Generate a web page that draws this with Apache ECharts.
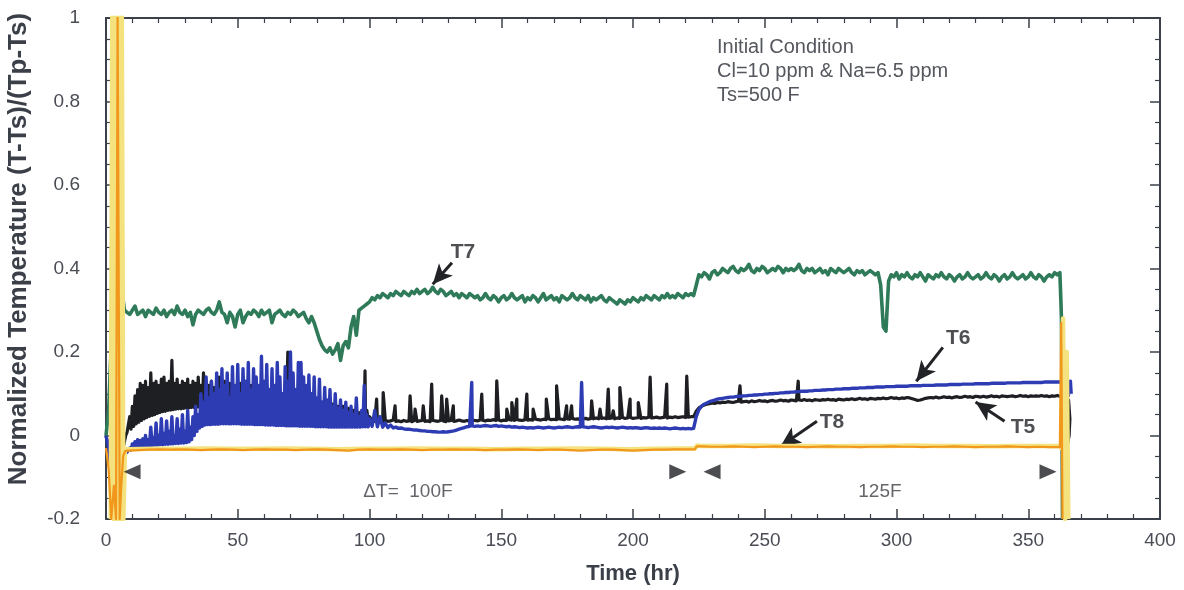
<!DOCTYPE html>
<html>
<head>
<meta charset="utf-8">
<title>Normalized Temperature vs Time</title>
<script src="https://cdn.jsdelivr.net/npm/echarts@6.0.0/dist/echarts.min.js"></script>
<style>
  html, body { margin: 0; padding: 0; background: #ffffff; }
  #chart { width: 1184px; height: 590px; }
</style>
</head>
<body>
<div id="chart"></div>
<script>
// ---------------------------------------------------------------------------
// Thermocouple traces, normalized temperature (T-Ts)/(Tp-Ts) against time (hr).
// Each trace: a start-up transient (explicit [hour, value] pairs), runs of
// readings at a fixed step ([first hour, step, values]), and a shut-down tail.
// ---------------------------------------------------------------------------

const xTicks = { min: 0, max: 400, interval: 50 };
const yTicks = { min: -0.2, max: 1, interval: 0.2 };

// ---- T7 (green) ----
const t7Head = [[0, 0.0], [1, 0.06], [2, 0.22], [2.8, 0.40], [3.4, 0.58], [4.0, 0.44], [4.6, 0.55], [5.2, 0.40], [5.8, 0.43], [6.4, 0.33]];
const t7Runs = [
  [7, 1, [
    0.300, 0.295, 0.290, 0.300, 0.310, 0.290, 0.295, 0.300, 0.285, 0.300,
    0.295, 0.290, 0.305, 0.295, 0.290, 0.300, 0.285, 0.295, 0.300, 0.290,
    0.310, 0.295, 0.290, 0.300, 0.285, 0.295, 0.265, 0.290, 0.300, 0.295,
    0.290, 0.300, 0.305, 0.295, 0.290, 0.300, 0.320, 0.295, 0.290, 0.270,
    0.295, 0.285, 0.260, 0.290, 0.300, 0.270, 0.285, 0.295, 0.290, 0.300,
    0.295, 0.285, 0.300, 0.290, 0.295, 0.300, 0.270, 0.290, 0.295, 0.300,
    0.290, 0.285, 0.295, 0.290, 0.300, 0.295, 0.285, 0.290, 0.295, 0.280,
    0.270, 0.285, 0.270, 0.250, 0.230, 0.215, 0.205, 0.200, 0.210, 0.195,
    0.205, 0.220, 0.180, 0.215, 0.225, 0.210, 0.260, 0.285, 0.240, 0.300,
    0.305, 0.310, 0.315, 0.320, 0.330, 0.325, 0.335, 0.330, 0.340, 0.335,
    0.330, 0.340, 0.335, 0.345, 0.340, 0.335, 0.345, 0.340, 0.335, 0.345,
    0.340, 0.350, 0.340, 0.345, 0.350, 0.340, 0.345, 0.355, 0.345, 0.340,
    0.350, 0.345, 0.335, 0.340, 0.345, 0.335, 0.340, 0.330, 0.340, 0.335,
    0.330, 0.340, 0.335, 0.330, 0.335, 0.325, 0.330, 0.340, 0.330, 0.325,
    0.335, 0.330, 0.320, 0.330, 0.335, 0.325, 0.330, 0.340, 0.330, 0.325,
    0.330, 0.335, 0.320, 0.330, 0.325, 0.335, 0.330, 0.320, 0.330, 0.340,
    0.325, 0.330, 0.335, 0.325, 0.330, 0.320, 0.335, 0.330, 0.325, 0.330,
    0.340, 0.330, 0.325, 0.335, 0.330, 0.325, 0.335, 0.320, 0.330, 0.325,
    0.330, 0.335, 0.325, 0.320, 0.330, 0.325, 0.320, 0.315, 0.325, 0.320,
    0.315, 0.325, 0.320, 0.330, 0.325, 0.320, 0.330, 0.325, 0.335, 0.330,
    0.325, 0.335, 0.330, 0.325, 0.335, 0.330, 0.340, 0.330, 0.335, 0.330,
    0.340, 0.335, 0.330, 0.340, 0.335, 0.340
  ]],
  [223, 1, [
    0.335, 0.360, 0.385, 0.380, 0.390, 0.385, 0.375, 0.390, 0.395, 0.385,
    0.390, 0.400, 0.395, 0.390, 0.400, 0.405, 0.395, 0.390, 0.400, 0.395,
    0.400, 0.410, 0.395, 0.390, 0.400, 0.395, 0.405, 0.400, 0.390, 0.395,
    0.400, 0.395, 0.405, 0.400, 0.390, 0.400, 0.395, 0.400, 0.395, 0.400,
    0.410, 0.395, 0.390, 0.400, 0.395, 0.400, 0.390, 0.395, 0.400, 0.390,
    0.395, 0.385, 0.400, 0.395, 0.390, 0.400, 0.395, 0.390, 0.395, 0.400,
    0.390, 0.385, 0.395, 0.390, 0.395, 0.385, 0.390, 0.395, 0.390, 0.385,
    0.390, 0.360, 0.260, 0.250, 0.370, 0.385, 0.380, 0.390, 0.375, 0.385,
    0.380, 0.390, 0.380, 0.375, 0.385, 0.380, 0.390, 0.380, 0.370, 0.385,
    0.380, 0.375, 0.385, 0.380, 0.390, 0.380, 0.375, 0.385, 0.380, 0.370,
    0.380, 0.385, 0.375, 0.380, 0.390, 0.380, 0.375, 0.380, 0.385, 0.375,
    0.380, 0.390, 0.380, 0.375, 0.385, 0.380, 0.370, 0.380, 0.385, 0.375,
    0.380, 0.390, 0.380, 0.375, 0.380, 0.385, 0.375, 0.380, 0.390, 0.380,
    0.375, 0.385, 0.380, 0.370, 0.380, 0.385, 0.380, 0.390, 0.385, 0.390
  ]]
];
const t7Tail = [[362.4, 0.32], [362.6, 0.28], [363.0, -0.2]];

// ---- T5 (black) ----
const t5Head = [[0, 0.0], [1.5, -0.05], [2.5, -0.12], [3.5, -0.06], [4.5, -0.15], [5.5, -0.07], [6.5, -0.03], [7.5, 0.0], [8, 0.008]];
const t5Runs = [
  [8.5, 0.5, [
    0.010, 0.045, 0.015, 0.070, 0.022, 0.095, 0.028, 0.110, 0.032, 0.125,
    0.036, 0.120, 0.040, 0.130, 0.043, 0.115, 0.046, 0.150, 0.048, 0.125,
    0.050, 0.130, 0.053, 0.120, 0.055, 0.135, 0.057, 0.140, 0.058, 0.125,
    0.060, 0.130, 0.061, 0.180, 0.062, 0.125, 0.063, 0.135, 0.064, 0.120,
    0.064, 0.130, 0.065, 0.125, 0.066, 0.135, 0.066, 0.120, 0.067, 0.130,
    0.067, 0.125, 0.068, 0.140, 0.068, 0.120, 0.068, 0.150, 0.068, 0.125,
    0.068, 0.120, 0.068, 0.130, 0.068, 0.115, 0.067, 0.125, 0.067, 0.140,
    0.067, 0.120, 0.066, 0.130, 0.066, 0.115, 0.066, 0.125, 0.065, 0.110,
    0.065, 0.120, 0.064, 0.110, 0.064, 0.125, 0.063, 0.105, 0.063, 0.115,
    0.062, 0.110, 0.062, 0.120, 0.061, 0.100, 0.061, 0.115, 0.060, 0.105,
    0.060, 0.110, 0.059, 0.100, 0.058, 0.115, 0.058, 0.095, 0.057, 0.105,
    0.057, 0.100, 0.056, 0.110, 0.055, 0.095, 0.055, 0.100, 0.054, 0.090,
    0.054, 0.200, 0.053, 0.095, 0.052, 0.090, 0.052, 0.100, 0.051, 0.085,
    0.050, 0.090, 0.050, 0.085, 0.049, 0.095, 0.048, 0.080, 0.048, 0.085,
    0.047, 0.080, 0.046, 0.085, 0.046, 0.075, 0.045, 0.080, 0.044, 0.070,
    0.044, 0.075, 0.043, 0.070, 0.042, 0.075, 0.042, 0.065, 0.041, 0.070,
    0.041, 0.065, 0.040, 0.070, 0.040, 0.060, 0.039, 0.065, 0.039, 0.060,
    0.038, 0.060, 0.038, 0.055, 0.038, 0.055, 0.037, 0.055, 0.037, 0.050,
    0.037, 0.060, 0.036, 0.045
  ]],
  [101, 1, [
    0.036, 0.034, 0.037, 0.035, 0.033, 0.036, 0.034, 0.035, 0.037, 0.034,
    0.035, 0.033, 0.036, 0.034, 0.035, 0.033, 0.036, 0.034, 0.035, 0.036,
    0.034, 0.035, 0.033, 0.036, 0.035, 0.034, 0.036, 0.035, 0.033, 0.035,
    0.036, 0.034, 0.035, 0.037, 0.035, 0.034, 0.036, 0.035, 0.037, 0.036,
    0.035, 0.037, 0.036, 0.035, 0.037, 0.036, 0.038, 0.036, 0.037, 0.035,
    0.037, 0.036, 0.038, 0.037, 0.036, 0.038, 0.037, 0.036, 0.038, 0.037,
    0.038, 0.037, 0.039, 0.038, 0.037, 0.039, 0.038, 0.040, 0.038, 0.039,
    0.038, 0.040, 0.039, 0.038, 0.040, 0.039, 0.041, 0.039, 0.040, 0.039,
    0.040, 0.041, 0.039, 0.041, 0.040, 0.042, 0.040, 0.041, 0.042, 0.040,
    0.041, 0.042, 0.040, 0.042, 0.041, 0.043, 0.041, 0.042, 0.043, 0.041,
    0.042, 0.043, 0.041, 0.043, 0.042, 0.044, 0.042, 0.043, 0.044, 0.042,
    0.043, 0.044, 0.042, 0.044, 0.043, 0.045, 0.043, 0.044, 0.045, 0.043,
    0.044, 0.045
  ]],
  [223, 1, [
    0.045, 0.058, 0.066, 0.070, 0.073, 0.075, 0.076, 0.078, 0.077, 0.079,
    0.078, 0.080, 0.079, 0.081, 0.080, 0.079, 0.081, 0.082, 0.080, 0.081,
    0.082, 0.080, 0.083, 0.081, 0.082, 0.084, 0.082, 0.083, 0.081, 0.083,
    0.084, 0.082, 0.083, 0.085, 0.083, 0.084, 0.082, 0.085, 0.084, 0.083,
    0.085, 0.084, 0.086, 0.084, 0.085, 0.083, 0.086, 0.085, 0.084, 0.086,
    0.085, 0.087, 0.085, 0.086, 0.084, 0.087, 0.086, 0.085, 0.087, 0.086,
    0.088, 0.086, 0.087, 0.089, 0.087, 0.088, 0.086, 0.089, 0.088, 0.087,
    0.089, 0.088, 0.090, 0.088, 0.089, 0.091, 0.089, 0.090, 0.088, 0.090,
    0.089, 0.091, 0.090, 0.088, 0.086, 0.084, 0.085, 0.087, 0.089, 0.090,
    0.091, 0.090, 0.092, 0.090, 0.091, 0.093, 0.091, 0.092, 0.090, 0.092,
    0.093, 0.091, 0.092, 0.094, 0.092, 0.093, 0.091, 0.094, 0.093, 0.092,
    0.094, 0.092, 0.093, 0.095, 0.093, 0.094, 0.092, 0.095, 0.094, 0.093,
    0.094, 0.095, 0.093, 0.094, 0.096, 0.094, 0.095, 0.093, 0.095, 0.094,
    0.095, 0.094, 0.096, 0.094, 0.095, 0.093, 0.095, 0.094, 0.096, 0.094
  ]]
];
// short excursions riding on the T5 baseline
const t5SpikeHours = [98.3, 102.7, 105.2, 109.7, 115.4, 117.3, 120.4, 123.6, 127.4, 129.3, 131.8, 142.6, 148.3, 152.1, 154.0, 155.9, 159.7, 162.1, 167.1, 171.0, 174.8, 176.7, 184.3, 187.5, 190.6, 192.5, 195.0, 198.9, 202.0, 206.5, 212.8, 220.4, 240.6, 262.7];
const t5SpikeTops  = [0.155, 0.087, 0.103, 0.071, 0.095, 0.063, 0.071, 0.123, 0.095, 0.087, 0.071, 0.099, 0.131, 0.063, 0.079, 0.087, 0.099, 0.063, 0.087, 0.119, 0.071, 0.071, 0.083, 0.063, 0.111, 0.059, 0.115, 0.087, 0.079, 0.140, 0.123, 0.142, 0.119, 0.130];
const t5Tail = [[363.5, 0.093], [364.5, 0.090], [365.3, 0.085], [365.8, 0.040], [365.5, 0.0], [364.5, -0.035]];

// ---- T6 (blue) ----
const t6Head = [[0, 0.0], [1, -0.03], [2, -0.10], [2.7, -0.18], [3.3, -0.10], [4.0, -0.16], [4.7, -0.08], [5.4, -0.12], [6.2, -0.05], [7, -0.045], [8, -0.04]];
const t6Runs = [
  [8.5, 0.5, [
    -0.040, -0.030, -0.035, -0.020, -0.030, -0.015, -0.028, -0.010, -0.027, -0.012,
    -0.026, -0.008, -0.025, 0.000, -0.025, -0.010, -0.024, 0.020, -0.024, -0.005,
    -0.023, 0.030, -0.023, 0.000, -0.022, 0.040, -0.022, 0.005, -0.021, 0.035,
    -0.021, 0.010, -0.020, 0.045, -0.020, 0.000, -0.019, 0.040, -0.019, 0.015,
    -0.018, 0.050, -0.018, 0.010, -0.017, 0.060, -0.015, 0.020, -0.010, 0.045,
    0.000, 0.070, 0.010, 0.050, 0.018, 0.100, 0.022, 0.080, 0.025, 0.140,
    0.026, 0.090, 0.026, 0.130, 0.027, 0.100, 0.027, 0.150, 0.027, 0.110,
    0.028, 0.160, 0.028, 0.120, 0.028, 0.150, 0.028, 0.090, 0.028, 0.165,
    0.028, 0.120, 0.028, 0.170, 0.028, 0.100, 0.027, 0.160, 0.027, 0.130,
    0.027, 0.175, 0.027, 0.110, 0.027, 0.160, 0.026, 0.140, 0.026, 0.120,
    0.026, 0.190, 0.026, 0.130, 0.025, 0.170, 0.025, 0.110, 0.025, 0.160,
    0.025, 0.120, 0.024, 0.175, 0.024, 0.140, 0.024, 0.100, 0.024, 0.165,
    0.023, 0.130, 0.023, 0.200, 0.023, 0.150, 0.023, 0.110, 0.023, 0.175,
    0.022, 0.175, 0.022, 0.140, 0.022, 0.120, 0.022, 0.145, 0.022, 0.100,
    0.022, 0.140, 0.021, 0.090, 0.021, 0.135, 0.021, 0.080, 0.021, 0.115,
    0.021, 0.085, 0.020, 0.110, 0.020, 0.070, 0.020, 0.100, 0.020, 0.065,
    0.020, 0.085, 0.020, 0.060, 0.020, 0.080, 0.020, 0.055, 0.020, 0.070,
    0.020, 0.050, 0.020, 0.090, 0.020, 0.045, 0.020, 0.060, 0.021, 0.120,
    0.021, 0.050, 0.021, 0.040
  ]],
  [101, 1, [
    0.022, 0.060, 0.021, 0.045, 0.020, 0.030, 0.019, 0.025, 0.018, 0.020,
    0.017, 0.018, 0.016, 0.015, 0.015, 0.014, 0.013, 0.013, 0.012, 0.011,
    0.011, 0.010, 0.010, 0.009, 0.009, 0.008, 0.008, 0.009, 0.008, 0.009,
    0.010, 0.011, 0.013, 0.015, 0.017, 0.019, 0.021, 0.022, 0.023, 0.022,
    0.023, 0.022, 0.023, 0.024, 0.023, 0.022, 0.023, 0.024, 0.022, 0.023,
    0.022, 0.021, 0.022, 0.020, 0.021, 0.020, 0.019, 0.020, 0.019, 0.018,
    0.019, 0.018, 0.019, 0.020, 0.019, 0.018, 0.019, 0.020, 0.019, 0.018,
    0.019, 0.020, 0.019, 0.020, 0.021, 0.020, 0.019, 0.020, 0.021, 0.020,
    0.021, 0.020, 0.019, 0.020, 0.021, 0.020, 0.019, 0.018, 0.019, 0.020,
    0.019, 0.020, 0.019, 0.018, 0.019, 0.020, 0.019, 0.018, 0.019, 0.018,
    0.019, 0.018, 0.017, 0.018, 0.019, 0.018, 0.017, 0.018, 0.017, 0.018,
    0.017, 0.018, 0.017, 0.016, 0.017, 0.018, 0.017, 0.016, 0.017, 0.016,
    0.017, 0.016
  ]],
  [223, 1, [
    0.017, 0.045, 0.062, 0.070, 0.075, 0.078, 0.081, 0.083, 0.085, 0.087,
    0.088, 0.089, 0.090, 0.091, 0.092, 0.092, 0.093, 0.094, 0.094, 0.095,
    0.095, 0.096, 0.096, 0.097, 0.097, 0.098, 0.098, 0.099, 0.099, 0.100,
    0.100, 0.101, 0.101, 0.102, 0.102, 0.103, 0.103, 0.104, 0.104, 0.105,
    0.105, 0.106, 0.106, 0.106, 0.107, 0.107, 0.108, 0.108, 0.108, 0.109,
    0.109, 0.110, 0.110, 0.110, 0.111, 0.111, 0.111, 0.112, 0.112, 0.112,
    0.113, 0.113, 0.113, 0.114, 0.114, 0.114, 0.115, 0.115, 0.115, 0.116,
    0.116, 0.116, 0.116, 0.117, 0.117, 0.117, 0.117, 0.118, 0.118, 0.118,
    0.118, 0.118, 0.119, 0.119, 0.119, 0.119, 0.119, 0.120, 0.120, 0.120,
    0.120, 0.120, 0.121, 0.121, 0.121, 0.121, 0.121, 0.122, 0.122, 0.122,
    0.122, 0.122, 0.123, 0.123, 0.123, 0.123, 0.123, 0.124, 0.124, 0.124,
    0.124, 0.124, 0.124, 0.125, 0.125, 0.125, 0.125, 0.125, 0.125, 0.126,
    0.126, 0.126, 0.126, 0.126, 0.126, 0.127, 0.127, 0.127, 0.127, 0.127,
    0.127, 0.127, 0.127, 0.128, 0.128, 0.128, 0.128, 0.128, 0.128, 0.128
  ]]
];
const t6SpikeHours = [138.8, 180.5];
const t6SpikeTops  = [0.127, 0.127];
const t6Tail = [[363.0, 0.130], [363.8, 0.090], [364.5, 0.135], [365.2, 0.095], [366.0, 0.130], [366.3, 0.100]];

// ---- T8 (orange) ----
const t8Head = [[0, -0.03], [1, -0.08], [2, -0.2], [3, -0.12], [3.8, -0.2], [4.4, 1.02], [5.2, -0.2], [5.8, -0.12], [6.5, -0.05], [7.2, -0.038]];
const t8Runs = [
  [8, 4, [
    -0.036, -0.035, -0.034, -0.033, -0.034, -0.033, -0.034, -0.035, -0.034, -0.033,
    -0.034, -0.035, -0.034, -0.033, -0.034, -0.034, -0.035, -0.034, -0.033, -0.034,
    -0.035, -0.036, -0.034, -0.033, -0.034, -0.034, -0.033, -0.034, -0.035, -0.034,
    -0.034, -0.033, -0.034, -0.034, -0.035, -0.034, -0.034, -0.033, -0.034, -0.035,
    -0.034, -0.034, -0.035, -0.036, -0.035, -0.034, -0.034, -0.035, -0.036, -0.035,
    -0.034, -0.034, -0.033, -0.033
  ]],
  [223.5, 0.7, [-0.033, -0.026]],
  [226, 4, [
    -0.026, -0.027, -0.027, -0.026, -0.027, -0.028, -0.027, -0.026, -0.027, -0.027,
    -0.028, -0.027, -0.026, -0.027, -0.027, -0.028, -0.027, -0.027, -0.026, -0.027,
    -0.027, -0.028, -0.027, -0.027, -0.026, -0.027, -0.028, -0.027, -0.027, -0.026,
    -0.027, -0.028, -0.027, -0.028, -0.028
  ]]
];
const t8Tail = [[362.5, 0.27], [363.0, -0.2]];

// ---- companion trace (pale yellow), runs just beside T8 ----
const t9Head = [[1.8, -0.2], [2.4, 1.02], [3.0, -0.2], [3.6, 1.02], [4.2, -0.2], [4.8, 1.02], [5.4, -0.2], [6.0, 1.02], [6.6, -0.2], [7.2, -0.032]];
const t9Runs = [
  [8, 10, [-0.033, -0.032, -0.032, -0.031, -0.032, -0.032, -0.031, -0.032, -0.033, -0.032,
           -0.032, -0.031, -0.032, -0.032, -0.033, -0.032, -0.032, -0.031, -0.032, -0.033,
           -0.032, -0.031]],
  [223.5, 0.8, [-0.031, -0.024]],
  [226, 10, [-0.025, -0.025, -0.024, -0.025, -0.025, -0.026, -0.025, -0.025, -0.024, -0.025,
             -0.025, -0.026, -0.025, -0.025]]
];
const t9Tail = [[362.0, -0.025], [362.6, -0.03], [363.2, 0.28], [364.0, -0.2], [364.6, 0.20], [365.2, -0.2]];

// markers bounding the two ΔT periods
const periodMarkHours = [9.9, 217.0, 230.0, 357.5];
const periodMarkDirs  = ['left', 'right', 'left', 'right'];
const periodLabels    = ['\u0394T=  100F', '125F'];
const periodLabelHours = [114.6, 293.7];

const conditionLines = ['Initial Condition', 'Cl=10 ppm & Na=6.5 ppm', 'Ts=500 F'];

// ---------------------------------------------------------------------------
function expandRuns(runs) {
  const out = [];
  runs.forEach(([start, step, vals]) => {
    vals.forEach((v, i) => out.push([+(start + i * step).toFixed(3), v]));
  });
  return out;
}
function buildTrace(head, runs, tail, spikeHours, spikeTops) {
  const body = expandRuns(runs);
  (spikeHours || []).forEach((h, i) => body.push([h, spikeTops[i]]));
  body.sort((a, b) => a[0] - b[0]);
  return head.concat(body, tail);
}

const FONT = '"Liberation Sans", Arial, Helvetica, sans-serif';
const AXIS_COLOR = '#3b404a';
const LABEL_COLOR = '#4a4d55';

function traceSeries(name, data, color, width, z) {
  return {
    name, type: 'line', data, z,
    symbol: 'none', showSymbol: false, silent: true,
    lineStyle: { color, width, join: 'round' },
    clip: true
  };
}

const chart = echarts.init(document.getElementById('chart'), null, { renderer: 'canvas' });

const axisCommon = {
  axisLine: { show: true, onZero: false, lineStyle: { color: AXIS_COLOR, width: 2 } },
  axisTick: { show: true, inside: true, length: 10, lineStyle: { color: AXIS_COLOR, width: 1.5 } },
  minorTick: { show: true, length: 5, lineStyle: { color: AXIS_COLOR, width: 1.2 } },
  splitLine: { show: false }
};

const option = {
  backgroundColor: '#ffffff',
  animation: false,
  grid: { left: 106, right: 24, top: 18, bottom: 70, containLabel: false },
  xAxis: [
    Object.assign({}, axisCommon, {
      type: 'value', position: 'bottom',
      min: xTicks.min, max: xTicks.max, interval: xTicks.interval,
      minorTick: Object.assign({}, axisCommon.minorTick, { splitNumber: 5 }),
      axisLabel: { color: LABEL_COLOR, fontFamily: FONT, fontSize: 19, margin: 12 },
      name: 'Time (hr)', nameLocation: 'middle', nameGap: 44,
      nameTextStyle: { color: '#3b3f48', fontFamily: FONT, fontSize: 22, fontWeight: 'bold' }
    }),
    Object.assign({}, axisCommon, {
      type: 'value', position: 'top',
      min: xTicks.min, max: xTicks.max, interval: xTicks.interval,
      minorTick: Object.assign({}, axisCommon.minorTick, { splitNumber: 5 }),
      axisLabel: { show: false }
    })
  ],
  yAxis: [
    Object.assign({}, axisCommon, {
      type: 'value', position: 'left',
      min: yTicks.min, max: yTicks.max, interval: yTicks.interval,
      minorTick: Object.assign({}, axisCommon.minorTick, { splitNumber: 4 }),
      axisLabel: { color: LABEL_COLOR, fontFamily: FONT, fontSize: 19, margin: 26 }
    }),
    Object.assign({}, axisCommon, {
      type: 'value', position: 'right',
      min: yTicks.min, max: yTicks.max, interval: yTicks.interval,
      minorTick: Object.assign({}, axisCommon.minorTick, { splitNumber: 4 }),
      axisLabel: { show: false }
    })
  ],
  series: [
    traceSeries('T5', buildTrace(t5Head, t5Runs, t5Tail, t5SpikeHours, t5SpikeTops), '#1e1f22', 3.2, 2),
    traceSeries('T6', buildTrace(t6Head, t6Runs, t6Tail, t6SpikeHours, t6SpikeTops), '#2e3cb4', 3.4, 3),
    traceSeries('T7', buildTrace(t7Head, t7Runs, t7Tail), '#2f7a58', 3.6, 4),
    traceSeries('T9', buildTrace(t9Head, t9Runs, t9Tail), '#f4e27e', 4.5, 5),
    traceSeries('T8', buildTrace(t8Head, t8Runs, t8Tail), '#f0971c', 2.2, 6),
    {
      // period bracket arrowheads
      name: 'period marks', type: 'scatter', z: 8, silent: true,
      symbol: 'triangle', symbolSize: [15, 17],
      itemStyle: { color: '#1f2024' },
      data: periodMarkHours.map((h, i) => ({
        value: [h, -0.087],
        symbolRotate: periodMarkDirs[i] === 'left' ? 90 : -90
      }))
    },
    {
      // period captions
      name: 'period captions', type: 'scatter', z: 8, silent: true,
      symbolSize: 0,
      label: {
        show: true, position: 'inside', color: '#3d3f45',
        fontFamily: FONT, fontSize: 19,
        formatter: p => p.data.text
      },
      data: periodLabels.map((t, i) => ({ value: [periodLabelHours[i], -0.135], text: t }))
    },
    {
      // trace call-outs with leader arrows
      name: 'call-outs', type: 'scatter', z: 9, silent: true,
      symbolSize: 0,
      label: {
        show: true, position: 'inside', color: '#222327',
        fontFamily: FONT, fontSize: 21, fontWeight: 'bold',
        formatter: p => p.data.text
      },
      data: [
        { value: [135.5, 0.440], text: 'T7' },
        { value: [323.4, 0.232], text: 'T6' },
        { value: [348.0, 0.020], text: 'T5' },
        { value: [275.5, 0.032], text: 'T8' }
      ],
      markLine: {
        silent: true, animation: false,
        symbol: ['none', 'arrow'], symbolSize: [14, 20],
        label: { show: false },
        lineStyle: { color: '#222327', width: 3, type: 'solid' },
        data: [
          [{ coord: [131.3, 0.414] }, { coord: [124.0, 0.362] }],
          [{ coord: [317.6, 0.211] }, { coord: [307.5, 0.130] }],
          [{ coord: [341.0, 0.034] }, { coord: [330.0, 0.080] }],
          [{ coord: [269.8, 0.034] }, { coord: [256.0, -0.026] }]
        ]
      }
    }
  ],
  graphic: [
    {
      type: 'text', left: 717, top: 35, silent: true,
      style: {
        text: conditionLines.join('\n'),
        fill: '#55575e', font: '20px ' + FONT, lineHeight: 24
      }
    },
    {
      type: 'text', x: 19, y: 249, rotation: Math.PI / 2, silent: true,
      style: {
        text: 'Normalized Temperature (T-Ts)/(Tp-Ts)',
        fill: '#3b3f48', font: 'bold 26px ' + FONT,
        align: 'center', verticalAlign: 'middle'
      }
    }
  ]
};

chart.setOption(option);
</script>
</body>
</html>
